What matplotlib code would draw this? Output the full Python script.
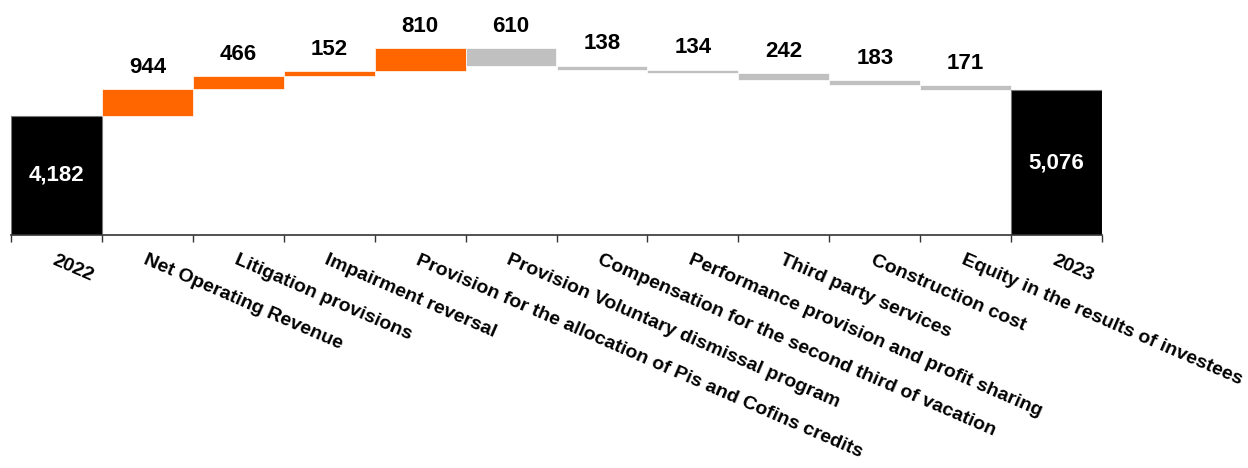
import matplotlib.pyplot as plt
import numpy as np

plt.rcParams['font.family'] = ['Liberation Sans', 'DejaVu Sans']

# Net income bridge 2022 -> 2023
categories = [
    "2022",
    "Net Operating Revenue",
    "Litigation provisions",
    "Impairment reversal",
    "Provision for the allocation of Pis and Cofins credits",
    "Provision Voluntary dismissal program",
    "Compensation for the second third of vacation",
    "Performance provision and profit sharing",
    "Third party services",
    "Construction cost",
    "Equity in the results of investees",
    "2023",
]
start_value = 4182
end_value = 5076
changes = [944, 466, 152, 810, -610, -138, -134, -242, -183, -171]

ORANGE = "#FF6600"
GREY = "#C0C0C0"

# Build floating bars from the running total
bottoms = [0]
heights = [start_value]
colors = ["black"]
running = start_value
for c in changes:
    if c >= 0:
        bottoms.append(running)
        colors.append(ORANGE)
    else:
        bottoms.append(running + c)
        colors.append(GREY)
    heights.append(abs(c))
    running += c
bottoms.append(0)
heights.append(end_value)
colors.append("black")

x = np.arange(len(categories))

fig = plt.figure(figsize=(12.48, 4.68), dpi=100)
ax = fig.add_axes([11 / 1248, (468 - 235) / 468, (1102 - 11) / 1248, 235 / 468])

for i in range(len(x)):
    total_bar = colors[i] == "black"
    ax.bar(x[i], heights[i], bottom=bottoms[i], width=1.0, color=colors[i],
           edgecolor="#777777" if total_bar else "white",
           linewidth=0.8 if total_bar else 0.5, zorder=2)

# Value labels
ax.text(x[0], start_value / 2, f"{start_value:,}", color="white", ha="center",
        va="center", fontsize=16, fontweight="bold")
ax.text(x[-1], end_value / 2, f"{end_value:,}", color="white", ha="center",
        va="center", fontsize=16, fontweight="bold")
for i, c in enumerate(changes, start=1):
    top = bottoms[i] + heights[i]
    ax.annotate(f"{abs(c):,}", (x[i], top), xytext=(0, 8), textcoords="offset points",
                ha="center", va="bottom", fontsize=16, fontweight="bold")

ax.set_xlim(-0.5, len(x) - 0.5)
ax.set_ylim(0, 235 / 0.0285)
ax.set_yticks([])
for side in ["left", "right", "top"]:
    ax.spines[side].set_visible(False)
ax.spines["bottom"].set_color("#333333")
ax.spines["bottom"].set_linewidth(1.2)

ax.set_xticks(x)
ax.set_xticklabels(categories, rotation=-23.5, ha="left", va="top",
                   rotation_mode="anchor", fontsize=14, fontweight="bold")
ax.set_xticks(np.arange(len(x) + 1) - 0.5, minor=True)
ax.tick_params(axis="x", which="major", length=0, pad=12)
ax.tick_params(axis="x", which="minor", length=5, width=1, color="#333333")

fig.savefig("out.png", dpi=100)
